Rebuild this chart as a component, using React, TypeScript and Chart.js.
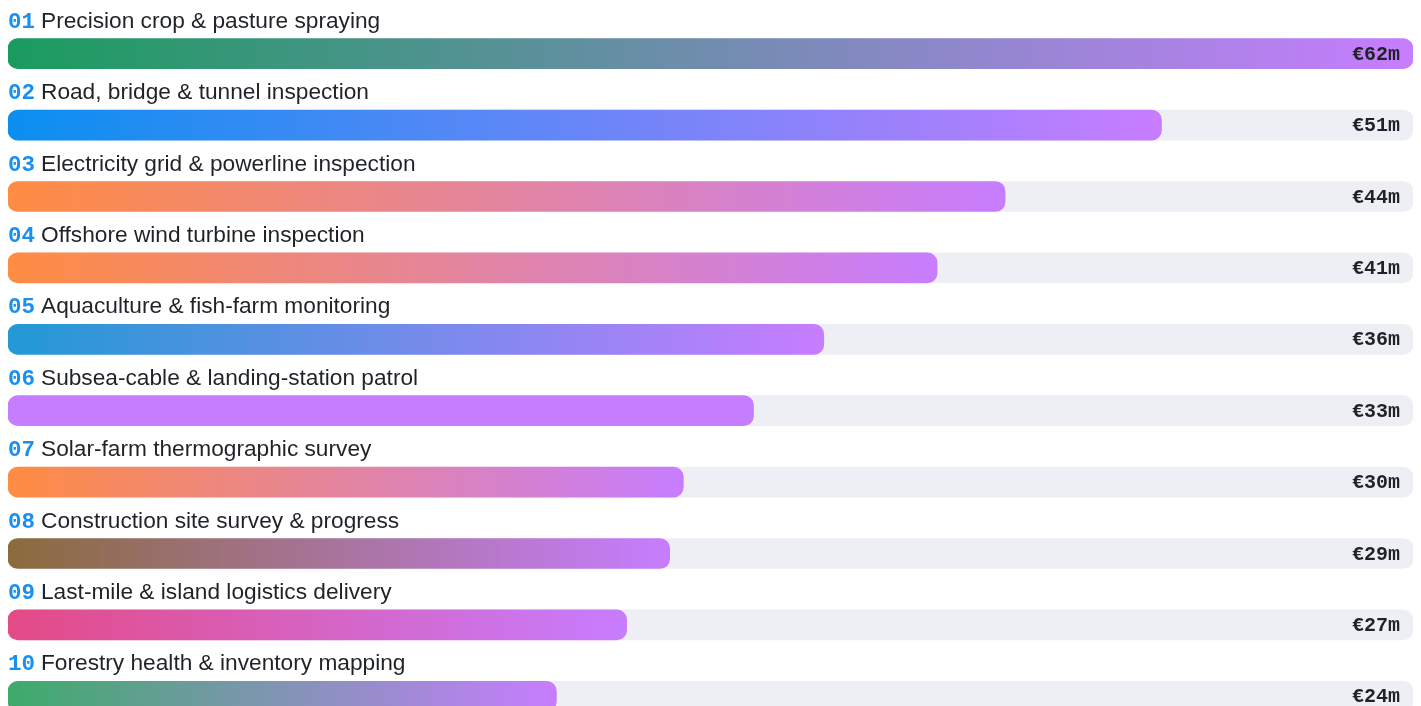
import React, { useEffect, useRef } from "react";
import { Chart, registerables } from "chart.js";

Chart.register(...registerables);

const ranks = ["01", "02", "03", "04", "05", "06", "07", "08", "09", "10"];
const categories = [
  "Precision crop & pasture spraying",
  "Road, bridge & tunnel inspection",
  "Electricity grid & powerline inspection",
  "Offshore wind turbine inspection",
  "Aquaculture & fish-farm monitoring",
  "Subsea-cable & landing-station patrol",
  "Solar-farm thermographic survey",
  "Construction site survey & progress",
  "Last-mile & island logistics delivery",
  "Forestry health & inventory mapping",
];
const values = [62.0, 50.9, 44.0, 41.0, 36.0, 32.9, 29.8, 29.2, 27.3, 24.2];
const valueLabels = ["€62m", "€51m", "€44m", "€41m", "€36m", "€33m", "€30m", "€29m", "€27m", "€24m"];
const startColors = [
  "#1a9c5e", "#0a8ff0", "#ff8c42", "#ff8c42", "#2299d6",
  "#c77dff", "#ff8c42", "#8a6b3c", "#e44a86", "#3dab6a",
];
const END_COLOR = "#c77dff";
const TRACK_COLOR = "#eeeff4";
const SCALE_MAX = 62;

const labelPlugin = {
  id: "rowLabels",
  afterDatasetsDraw(chart: any) {
    const ctx = chart.ctx;
    const meta = chart.getDatasetMeta(1);
    const left = chart.chartArea.left;
    const right = chart.chartArea.right;
    ctx.save();
    meta.data.forEach((el: any, i: number) => {
      const top = el.y - 15;
      const baseline = top - 11;
      ctx.textBaseline = "alphabetic";
      ctx.textAlign = "left";
      ctx.font = "bold 22.5px 'Liberation Mono', 'DejaVu Sans Mono', monospace";
      ctx.fillStyle = "#1a8ff0";
      ctx.fillText(ranks[i], left, baseline);
      const w = ctx.measureText(ranks[i]).width;
      ctx.font = "22.7px 'Liberation Sans', Arial, sans-serif";
      ctx.fillStyle = "#1f2328";
      ctx.fillText(categories[i], left + w + 6, baseline);
      ctx.font = "bold 20px 'Liberation Mono', 'DejaVu Sans Mono', monospace";
      ctx.textAlign = "right";
      ctx.textBaseline = "middle";
      ctx.fillStyle = "#1f2328";
      ctx.fillText(valueLabels[i], right - 13, el.y + 1);
    });
    ctx.restore();
  },
};

export default function App() {
  const ref = useRef<HTMLCanvasElement>(null);
  useEffect(() => {
    if (!ref.current) return;
    const chart = new Chart(ref.current, {
      type: "bar",
      data: {
        labels: categories,
        datasets: [
          {
            data: values,
            order: 0,
            grouped: false,
            barThickness: 30,
            borderRadius: 10,
            borderSkipped: false,
            backgroundColor: (c: any) => {
              const chart = c.chart;
              const area = chart.chartArea;
              if (!area || c.dataIndex === undefined) return END_COLOR;
              const xs = chart.scales.x;
              const x0 = xs.getPixelForValue(0);
              const x1 = xs.getPixelForValue(values[c.dataIndex]);
              const g = chart.ctx.createLinearGradient(x0, 0, x1, 0);
              g.addColorStop(0, startColors[c.dataIndex]);
              g.addColorStop(1, END_COLOR);
              return g;
            },
          } as any,
          {
            data: values.map(() => SCALE_MAX),
            order: 1,
            grouped: false,
            barThickness: 30,
            borderRadius: 10,
            borderSkipped: false,
            backgroundColor: TRACK_COLOR,
          } as any,
        ],
      },
      options: {
        indexAxis: "y",
        animation: false,
        responsive: true,
        maintainAspectRatio: false,
        layout: { padding: { top: 10, bottom: 16, left: 0, right: 0 } },
        scales: {
          x: { display: false, min: 0, max: SCALE_MAX },
          y: { display: false },
        },
        plugins: {
          legend: { display: false },
          tooltip: { enabled: false },
        },
      },
      plugins: [labelPlugin],
    });
    return () => chart.destroy();
  }, []);
  return (
    <div style={{ height: 698, overflow: "hidden" }}>
      <div style={{ position: "relative", width: "100%", height: 740 }}>
        <canvas ref={ref} />
      </div>
    </div>
  );
}
